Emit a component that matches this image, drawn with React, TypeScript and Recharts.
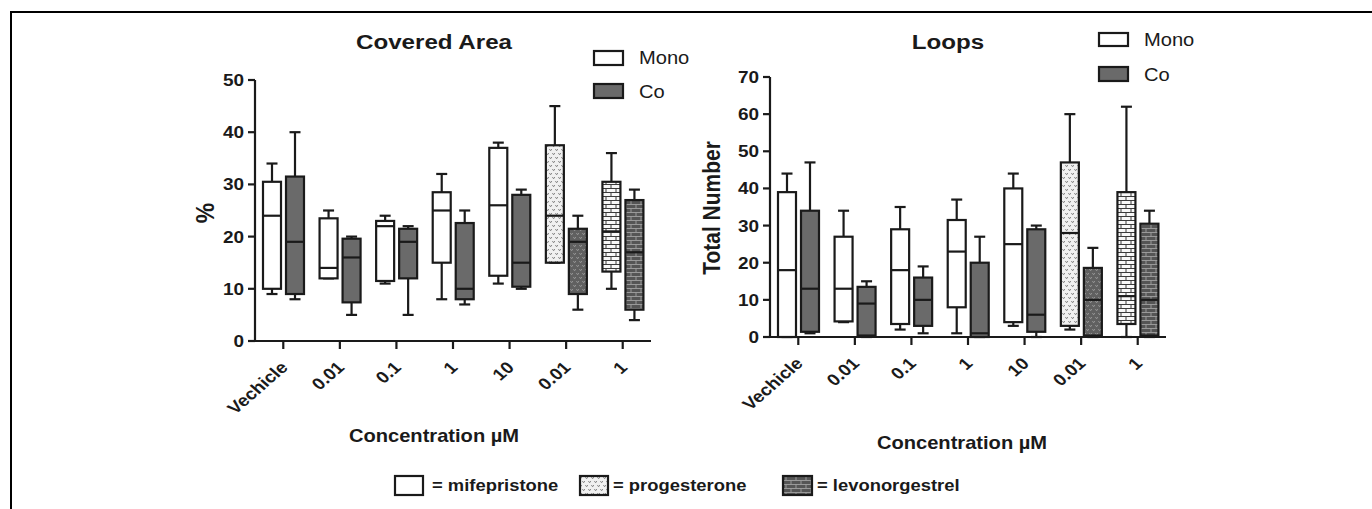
import { Bar, ComposedChart, XAxis, YAxis } from "recharts";

const categories = ["Vechicle", "0.01", "0.1", "1", "10", "0.01", "1"];
const treatments = ["mif", "mif", "mif", "mif", "mif", "prog", "levo"];

// each row: [min, q1, median, q3, max]
const areaMono = [
  [9, 10, 24, 30.5, 34],
  [12, 12, 14, 23.5, 25],
  [11, 11.5, 22, 23, 24],
  [8, 15, 25, 28.5, 32],
  [11, 12.5, 26, 37, 38],
  [15, 15, 24, 37.5, 45],
  [10, 13.3, 21, 30.5, 36],
];
const areaCo = [
  [8, 9, 19, 31.5, 40],
  [5, 7.4, 16, 19.6, 20],
  [5, 12, 19, 21.5, 22],
  [7, 8, 10, 22.6, 25],
  [10, 10.4, 15, 28, 29],
  [6, 9, 19, 21.5, 24],
  [4, 6, 17, 27, 29],
];
const loopsMono = [
  [0, 0, 18, 39, 44],
  [4, 4.2, 13, 27, 34],
  [2, 3.5, 18, 29, 35],
  [1, 8, 23, 31.5, 37],
  [3, 4, 25, 40, 44],
  [2, 3, 28, 47, 60],
  [0, 3.5, 11, 39, 62],
];
const loopsCo = [
  [1, 1.4, 13, 34, 47],
  [0, 0.4, 9, 13.5, 15],
  [1, 3, 10, 16, 19],
  [0, 0, 1, 20, 27],
  [0, 1.4, 6, 29, 30],
  [0, 0.4, 10, 18.6, 24],
  [0, 0.4, 10, 30.5, 34],
];

const areaTicks = [0, 10, 20, 30, 40, 50];
const loopsTicks = [0, 10, 20, 30, 40, 50, 60, 70];

const INK = "#1a1a1a";
const CO_FILL = "#6a6a6a";
const SX = 1.15; // the figure is stretched sideways
const LW = 2.2;
const FONT = "'Liberation Sans', Arial, sans-serif";

const fills: Record<string, [string, string]> = {
  mif: ["#ffffff", CO_FILL],
  prog: ["url(#progLight) #eeeeee", "url(#progDark) #666666"],
  levo: ["url(#levoLight) #cccccc", "url(#levoDark) #5a5a5a"],
};

function buildRows(mono: number[][], co: number[][]) {
  return categories.map((label, i) => ({
    key: `${i}`,
    label,
    treatment: treatments[i],
    mono: mono[i],
    co: co[i],
  }));
}

function SText({ x, y, size, weight = "bold", anchor = "start", rotate = 0, children }: any) {
  return (
    <text
      transform={`translate(${x},${y}) scale(${SX},1)${rotate ? ` rotate(${rotate})` : ""}`}
      fontSize={size}
      fontWeight={weight}
      textAnchor={anchor}
      fill={INK}
      fontFamily={FONT}
    >
      {children}
    </text>
  );
}

function BoxShape(props: any) {
  const { x, y, width, height, stats, fill } = props;
  if (!stats) return null;
  const [mn, q1, med, q3, mx] = stats;
  const top = Math.min(y, y + height);
  const h = Math.abs(height);
  const py = (v: number) => top + ((mx - v) * h) / (mx - mn);
  const cx = x + width / 2;
  const cap = 11;
  const l = x + 1;
  const r = x + width - 1;
  return (
    <g>
      <line x1={cx} x2={cx} y1={py(mx)} y2={py(q3)} stroke={INK} strokeWidth={LW} />
      <line x1={cx - cap / 2} x2={cx + cap / 2} y1={py(mx)} y2={py(mx)} stroke={INK} strokeWidth={LW} />
      <line x1={cx} x2={cx} y1={py(q1)} y2={py(mn)} stroke={INK} strokeWidth={LW} />
      <line x1={cx - cap / 2} x2={cx + cap / 2} y1={py(mn)} y2={py(mn)} stroke={INK} strokeWidth={LW} />
      <rect x={l} y={py(q3)} width={r - l} height={py(q1) - py(q3)} fill={fill} stroke={INK} strokeWidth={LW} />
      <line x1={l} x2={r} y1={py(med)} y2={py(med)} stroke={INK} strokeWidth={LW} />
    </g>
  );
}

function CategoryTick(props: any) {
  const { x, y, payload } = props;
  const label = categories[Number(payload.value)];
  return (
    <text
      transform={`translate(${x - 4},${y + 9}) scale(${SX},1) rotate(-45)`}
      textAnchor="end"
      dy="0.72em"
      fontSize={16.5}
      fontWeight="bold"
      fill={INK}
      fontFamily={FONT}
    >
      {label}
    </text>
  );
}

function ValueTick(props: any) {
  const { x, y, payload } = props;
  return (
    <text
      transform={`translate(${x},${y}) scale(${SX},1)`}
      textAnchor="end"
      dy="0.36em"
      fontSize={16.5}
      fontWeight="bold"
      fill={INK}
      fontFamily={FONT}
    >
      {payload.value}
    </text>
  );
}

function BoxPanel({ rows, domain, ticks, margin }: any) {
  const axisStyle = { stroke: INK, strokeWidth: LW };
  return (
    <div style={{ position: "absolute", left: 0, top: 0 }}>
      <ComposedChart width={1372} height={509} data={rows} margin={margin} barSize={20} barGap={3}>
        <XAxis
          dataKey="key"
          type="category"
          interval={0}
          height={30}
          tickSize={8}
          axisLine={axisStyle}
          tickLine={axisStyle}
          tick={<CategoryTick />}
        />
        <YAxis
          type="number"
          domain={domain}
          ticks={ticks}
          interval={0}
          width={40}
          tickSize={7}
          tickMargin={4}
          axisLine={axisStyle}
          tickLine={axisStyle}
          tick={<ValueTick />}
        />
        <Bar
          dataKey={(d: any) => [d.mono[0], d.mono[4]]}
          isAnimationActive={false}
          shape={(p: any) => {
            const row = p.payload ?? rows[p.index];
            return <BoxShape {...p} stats={row.mono} fill={fills[row.treatment][0]} />;
          }}
        />
        <Bar
          dataKey={(d: any) => [d.co[0], d.co[4]]}
          isAnimationActive={false}
          shape={(p: any) => {
            const row = p.payload ?? rows[p.index];
            return <BoxShape {...p} stats={row.co} fill={fills[row.treatment][1]} />;
          }}
        />
      </ComposedChart>
    </div>
  );
}

function Patterns() {
  return (
    <defs>
      <pattern id="progLight" width="6" height="8" patternUnits="userSpaceOnUse">
        <rect width="6" height="8" fill="#f0f0f0" />
        <path d="M0.4,1 L1.6,2.8 L2.8,1 M3.4,5 L4.6,6.8 L5.8,5" stroke="#7a7a7a" strokeWidth="0.9" fill="none" />
      </pattern>
      <pattern id="progDark" width="6" height="8" patternUnits="userSpaceOnUse">
        <rect width="6" height="8" fill="#606060" />
        <path d="M0.4,1 L1.6,2.8 L2.8,1 M3.4,5 L4.6,6.8 L5.8,5" stroke="#9a9a9a" strokeWidth="0.9" fill="none" />
      </pattern>
      <pattern id="levoLight" width="10" height="8" patternUnits="userSpaceOnUse">
        <rect width="10" height="8" fill="#f7f7f7" />
        <path d="M0,0.5 H10 M0,4.5 H10 M1,0.5 V4.5 M6,4.5 V8.5" stroke="#3a3a3a" strokeWidth="1" fill="none" />
      </pattern>
      <pattern id="levoDark" width="10" height="8" patternUnits="userSpaceOnUse">
        <rect width="10" height="8" fill="#555555" />
        <path d="M0,0.5 H10 M0,4.5 H10 M1,0.5 V4.5 M6,4.5 V8.5" stroke="#a0a0a0" strokeWidth="0.9" fill="none" />
      </pattern>
    </defs>
  );
}

function Overlay() {
  return (
    <svg
      width={1372}
      height={509}
      style={{ position: "absolute", left: 0, top: 0, pointerEvents: "none" }}
    >
      <Patterns />
      {/* frame */}
      <line x1={11} x2={1372} y1={12} y2={12} stroke="#000" strokeWidth={2} />
      <line x1={11} x2={11} y1={11} y2={509} stroke="#000" strokeWidth={2} />

      {/* left panel */}
      <SText x={434} y={49} size={21} anchor="middle">Covered Area</SText>
      <rect x={594} y={51} width={29} height={14} fill="#fff" stroke={INK} strokeWidth={LW} />
      <SText x={639} y={64} size={17.5} weight="normal">Mono</SText>
      <rect x={594} y={84} width={29} height={14} fill={CO_FILL} stroke={INK} strokeWidth={LW} />
      <SText x={639} y={98} size={17.5} weight="normal">Co</SText>
      <SText x={214} y={213} size={23} anchor="middle" rotate={-90}>%</SText>
      <SText x={434} y={442} size={17.5} anchor="middle">Concentration µM</SText>

      {/* right panel */}
      <SText x={948} y={49} size={21} anchor="middle">Loops</SText>
      <rect x={1099} y={33} width={29} height={13} fill="#fff" stroke={INK} strokeWidth={LW} />
      <SText x={1144} y={46} size={17.5} weight="normal">Mono</SText>
      <rect x={1099} y={67} width={29} height={14} fill={CO_FILL} stroke={INK} strokeWidth={LW} />
      <SText x={1144} y={81} size={17.5} weight="normal">Co</SText>
      <SText x={720} y={208} size={21} anchor="middle" rotate={-90}>Total Number</SText>
      <SText x={962} y={449} size={17.5} anchor="middle">Concentration µM</SText>

      {/* treatment key */}
      <rect x={395} y={476} width={28} height={19} fill="#fff" stroke={INK} strokeWidth={LW} />
      <SText x={432} y={491} size={16}>= mifepristone</SText>
      <rect x={580} y={476} width={28} height={19} fill="url(#progLight) #eee" stroke={INK} strokeWidth={LW} />
      <SText x={613} y={491} size={16}>= progesterone</SText>
      <rect x={783} y={476} width={29} height={19} fill="url(#levoDark) #5a5a5a" stroke={INK} strokeWidth={LW} />
      <SText x={817} y={491} size={16}>= levonorgestrel</SText>
    </svg>
  );
}

export default function App() {
  const areaRows = buildRows(areaMono, areaCo);
  const loopsRows = buildRows(loopsMono, loopsCo);
  return (
    <div
      style={{
        position: "absolute",
        left: 0,
        top: 0,
        width: 1372,
        height: 509,
        background: "#fff",
        fontFamily: FONT,
        overflow: "hidden",
      }}
    >
      <Overlay />
      <BoxPanel
        rows={areaRows}
        domain={[0, 50]}
        ticks={areaTicks}
        margin={{ top: 80, right: 721, bottom: 138, left: 215 }}
      />
      <BoxPanel
        rows={loopsRows}
        domain={[0, 70]}
        ticks={loopsTicks}
        margin={{ top: 77, right: 206, bottom: 142, left: 730 }}
      />
    </div>
  );
}
